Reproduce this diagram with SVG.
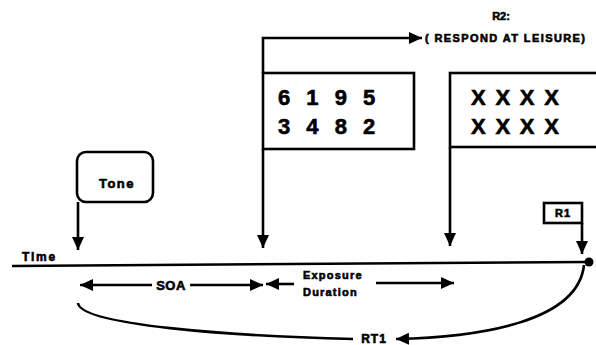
<svg xmlns="http://www.w3.org/2000/svg" width="596" height="345" viewBox="0 0 596 345">
<defs>
<marker id="ah" markerUnits="userSpaceOnUse" markerWidth="14" markerHeight="12" refX="13" refY="6" orient="auto">
<path d="M0,0 L13,6 L0,12 z" fill="#000"/>
</marker>
<style>
.ln{fill:none;stroke:#000;stroke-width:2.6}
.bx{fill:#fff;stroke:#000;stroke-width:2.6}
.t{font-family:"Liberation Sans",Arial,sans-serif;font-weight:bold;fill:#000;stroke:#000;stroke-width:0.6}
</style>
</defs>
<rect width="596" height="345" fill="#fff"/>
<g id="tone">
<rect class="bx" x="77" y="152" width="76" height="50" rx="9"/>
<text class="t" x="117" y="188" font-size="13" letter-spacing="1.5" text-anchor="middle">Tone</text>
</g>
<g id="digits">
<rect class="bx" x="263" y="73" width="151" height="76"/>
<text class="t" x="278" y="105" font-size="22" letter-spacing="5">6 1 9 5</text>
<text class="t" x="278" y="134" font-size="22" letter-spacing="5">3 4 8 2</text>
</g>
<g id="mask">
<rect class="bx" x="450" y="73" width="160" height="74"/>
<text class="t" x="471" y="105" font-size="22" letter-spacing="1.8">X X X X</text>
<text class="t" x="471" y="134" font-size="22" letter-spacing="1.8">X X X X</text>
</g>
<g id="r2">
<text class="t" x="501" y="20" font-size="11" text-anchor="middle">R2:</text>
<text class="t" x="425" y="42" font-size="11" letter-spacing="1.4">( RESPOND AT LEISURE)</text>
</g>
<g id="r1">
<rect class="bx" x="544" y="203" width="38" height="20"/>
<text class="t" x="563" y="217" font-size="11" letter-spacing="1" text-anchor="middle">R1</text>
</g>
<g id="labels">
<text class="t" x="22" y="261" font-size="12" letter-spacing="1.8">Time</text>
<text class="t" x="171" y="290" font-size="13" letter-spacing="0.5" text-anchor="middle">SOA</text>
<text class="t" x="303" y="279" font-size="11" letter-spacing="1.2">Exposure</text>
<text class="t" x="303" y="296" font-size="11" letter-spacing="1.2">Duration</text>
<text class="t" x="374" y="343" font-size="12" letter-spacing="1" text-anchor="middle">RT1</text>
</g>
<g id="connectors">
<path class="ln" d="M12,266 L586,262"/>
<circle cx="589" cy="262" r="4.5" fill="#000"/>
<path class="ln" d="M78,202 V250" marker-end="url(#ah)"/>
<path class="ln" d="M263,149 V248" marker-end="url(#ah)"/>
<path class="ln" d="M263,73 V38 H422" marker-end="url(#ah)"/>
<path class="ln" d="M450,147 V246" marker-end="url(#ah)"/>
<path class="ln" d="M582,223 V254" marker-end="url(#ah)"/>
<path class="ln" d="M152,285 H80" marker-end="url(#ah)"/>
<path class="ln" d="M190,285 H263" marker-end="url(#ah)"/>
<path class="ln" d="M294,284 H266" marker-end="url(#ah)"/>
<path class="ln" d="M376,283 H454" marker-end="url(#ah)"/>
<path class="ln" d="M78,303 C80,325 230,336 353,339"/>
<path class="ln" d="M584,265 C578,322 480,337 396,339" marker-end="url(#ah)"/>
</g>
</svg>
